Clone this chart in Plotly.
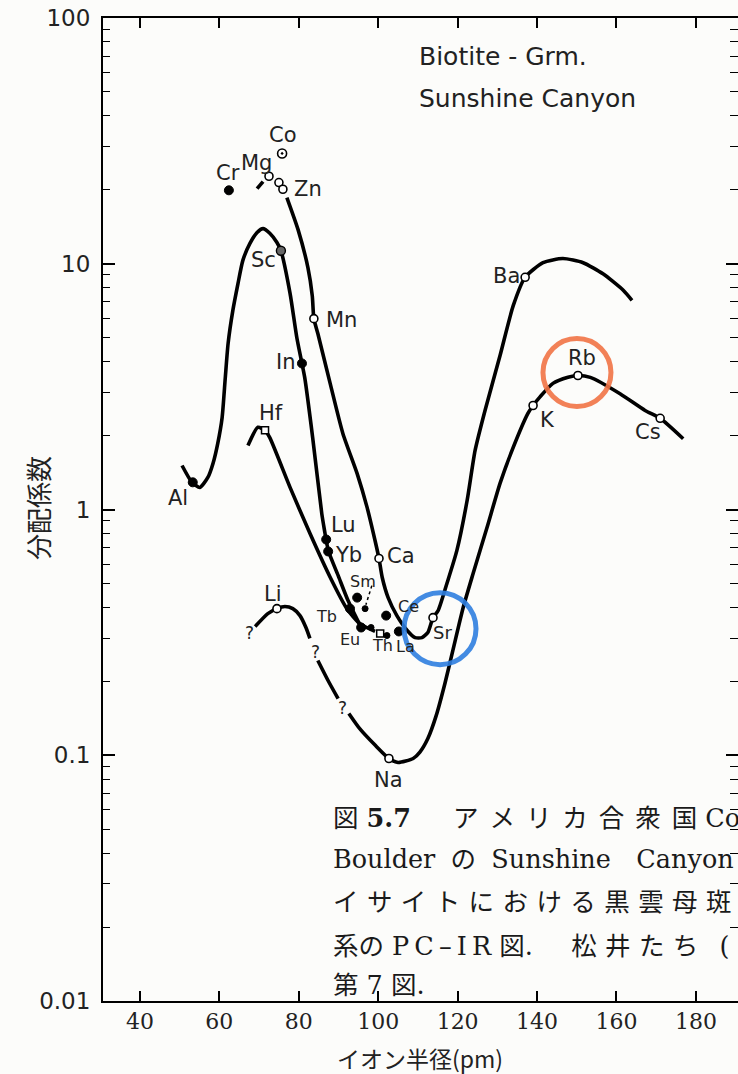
import math
import plotly.graph_objects as go

# ---------------- data ----------------
# measured points: element, ionic radius (pm), partition coefficient
pt_name = ["Cr", "Mg", "Co", "", "Zn", "Sc", "Mn", "In", "Hf", "Al", "Lu", "Yb", "Ca",
           "Sm", "", "Tb", "Eu", "", "Th", "", "La", "Ce", "Sr", "Ba", "K", "Rb", "Cs",
           "Li", "Na"]
pt_radius = [62.4, 72.5, 75.8, 75.0, 76.0, 75.5, 83.8, 80.8, 71.5, 53.3, 86.9, 87.4, 100.2,
             94.7, 96.7, 92.9, 95.7, 98.2, 100.5, 102.2, 105.2, 102.0, 113.8, 137.0, 139.0,
             150.3, 171.0, 74.5, 102.7]
pt_kd = [19.9, 22.7, 28.1, 21.4, 20.1, 11.3, 5.98, 3.93, 2.10, 1.29, 0.755, 0.675, 0.632,
         0.438, 0.395, 0.395, 0.331, 0.331, 0.313, 0.307, 0.319, 0.37, 0.363, 8.81, 2.65,
         3.51, 2.35, 0.395, 0.097]
pt_kind = ["filled", "open", "dot", "open", "open", "grey", "open", "filled", "square",
           "filled", "filled", "filled", "open", "filled", "small", "filled", "filled",
           "small", "square", "small", "filled", "filled", "open", "open", "open", "open",
           "open", "open", "open"]

# hand drawn curves (ionic radius, partition coefficient); None = break in the line
al_sc_r = [50.6, 53.1, 55.1, 57.1, 58.4, 59.6, 60.7, 61.5, 62.2, 63.4, 64.7, 65.9, 67.7,
           69.5, 71.0, 72.7, 74.5, 75.5, 77.8, 79.5, 80.8, 81.5, 83.5, 85.8, 86.6, 86.9,
           87.6, 89.9, 92.4, 95.7]
al_sc_kd = [1.51, 1.29, 1.23, 1.35, 1.54, 1.86, 2.37, 3.45, 4.73, 6.46, 8.32, 10.3, 12.1,
            13.4, 13.9, 13.3, 12.2, 11.3, 7.58, 5.01, 3.93, 3.44, 1.96, 0.96, 0.80, 0.748,
            0.668, 0.539, 0.426, 0.331]

zn_ba_r = [77.0, 79.8, 82.3, 83.4, 83.8, 84.8, 87.9, 91.1, 94.7, 97.2, 99.2, 100.2,
           101.0, 102.5, 104.7, 107.3, 109.3, 111.0, 112.5, 113.8, 115.1, 117.3, 119.8,
           122.4, 124.4, 126.9, 130.7, 134.0, 137.0, 141.5, 146.5, 151.6, 156.6, 161.7,
           163.9]
zn_ba_kd = [18.6, 13.8, 9.65, 7.4, 5.98, 5.20, 3.26, 2.04, 1.40, 1.02, 0.748, 0.632,
            0.53, 0.438, 0.370, 0.322, 0.301, 0.301, 0.316, 0.363, 0.388, 0.50, 0.68,
            1.09, 1.74, 2.53, 4.24, 6.75, 8.81, 10.1, 10.5, 10.1, 9.1, 7.8, 7.1]

hf_r = [67.2, 69.7, 71.5, 72.7, 77.8, 82.8, 87.9, 92.1, 95.4, 99.2]
hf_kd = [1.82, 2.16, 2.10, 1.96, 1.23, 0.80, 0.53, 0.395, 0.343, 0.319]

li_cs_r = [69.0, 72.2, 74.5, 76.5, 78.5, 80.3, 81.8, 82.8, None,
           84.8, 87.4, 89.9, None,
           92.6, 95.4, 99.2, 102.7, 105.0, 108.8, 110.5, 112.5, 114.6, 116.8, 118.8,
           121.4, 123.9, 127.4, 130.7, 133.7, 137.7, 139.0, 140.8, 144.0, 147.8, 150.3,
           153.4, 160.9, 167.2, 171.0, 176.8]
li_cs_kd = [0.334, 0.377, 0.395, 0.403, 0.395, 0.370, 0.331, 0.299, None,
            0.243, 0.201, 0.170, None,
            0.148, 0.128, 0.110, 0.097, 0.0935, 0.097, 0.103, 0.117, 0.145, 0.196, 0.267,
            0.399, 0.549, 0.845, 1.28, 1.74, 2.46, 2.65, 2.88, 3.26, 3.45, 3.51, 3.45,
            2.96, 2.53, 2.35, 1.94]

mg_dash_r = [69.5, 71.0]
mg_dash_kd = [20.2, 21.6]
sm_lead_r = [98.4, 96.9]
sm_lead_kd = [0.49, 0.41]

# uncertain-segment marks "?"
q_r = [67.5, 84.3, 91.1]
q_kd = [0.315, 0.262, 0.155]

y_tick_vals = [0.01, 0.1, 1, 10, 100]
y_tick_text = ["0.01", "0.1", "1", "10", "100"]
x_tick_vals = [40, 60, 80, 100, 120, 140, 160, 180]

# ---------------- layout constants ----------------
FIG_W, FIG_H = 738, 1074
ML, MR, MT, MB = 103, 0, 18, 73
PW, PH = FIG_W - ML - MR, FIG_H - MT - MB
X_RANGE = [30.7, 190.6]
Y_RANGE = [-2, 2]
PX_PER_X = PW / (X_RANGE[1] - X_RANGE[0])
PX_PER_DEC = PH / (Y_RANGE[1] - Y_RANGE[0])
BG = "#fcfcfa"


def px_x(px):
    return (px - ML) / PW


def px_y(py):
    return 1 - (py - MT) / PH


fig = go.Figure()

LINE = dict(color="black", width=3.6, shape="spline", smoothing=0.6)
for xs, ys in [(al_sc_r, al_sc_kd), (zn_ba_r, zn_ba_kd), (hf_r, hf_kd), (li_cs_r, li_cs_kd),
               (mg_dash_r, mg_dash_kd)]:
    fig.add_trace(go.Scatter(x=xs, y=ys, mode="lines", line=LINE, connectgaps=False,
                             hoverinfo="skip", showlegend=False))
fig.add_trace(go.Scatter(x=sm_lead_r, y=sm_lead_kd, mode="lines",
                         line=dict(color="black", width=1.5, dash="dot"),
                         hoverinfo="skip", showlegend=False))

styles = {
    "filled": dict(symbol="circle", size=9, color="black", line=dict(color="black", width=1)),
    "small": dict(symbol="circle", size=6, color="black", line=dict(color="black", width=1)),
    "open": dict(symbol="circle", size=8, color="white", line=dict(color="black", width=1.6)),
    "dot": dict(symbol="circle-dot", size=9, color="white", line=dict(color="black", width=1.6)),
    "grey": dict(symbol="circle", size=9, color="#666", line=dict(color="black", width=1.4)),
    "square": dict(symbol="square", size=7, color="white", line=dict(color="black", width=1.5)),
}
for kind, st in styles.items():
    xs = [r for r, k in zip(pt_radius, pt_kind) if k == kind]
    ys = [v for v, k in zip(pt_kd, pt_kind) if k == kind]
    fig.add_trace(go.Scatter(x=xs, y=ys, mode="markers", marker=st,
                             hoverinfo="skip", showlegend=False))

# label offsets in pixels (dx right, dy down) and font size
label_style = {
    "Cr": (-1, -17, 21), "Mg": (-13, -13, 21), "Co": (1, -18, 21), "Zn": (25, 0, 21),
    "Sc": (-17, 9, 21), "Mn": (28, 1, 21), "In": (-16, -1, 21), "Hf": (6, -17, 21),
    "Al": (-15, 16, 21), "Lu": (17, -14, 21), "Yb": (20, 4, 21), "Ca": (22, -2, 21),
    "Sm": (6, -16, 16), "Tb": (-24, 8, 16), "Eu": (-11, 12, 16), "Th": (2, 12, 16),
    "La": (7, 15, 16), "Ce": (22, -9, 16), "Sr": (9, 15, 18), "Ba": (-19, -1, 21),
    "K": (14, 15, 21), "Rb": (4, -17, 21), "Cs": (-12, 14, 21), "Li": (-4, -15, 21),
    "Na": (0, 21, 21),
}
annotations = []
for name, r, kd in zip(pt_name, pt_radius, pt_kd):
    if not name:
        continue
    dx, dy, fs = label_style[name]
    annotations.append(dict(x=r, y=math.log10(kd), xref="x", yref="y", text=name,
                            showarrow=False, xshift=dx, yshift=-dy, xanchor="center",
                            yanchor="middle",
                            font=dict(family="DejaVu Sans", size=fs, color="#222")))
for r, kd in zip(q_r, q_kd):
    annotations.append(dict(x=r, y=math.log10(kd), xref="x", yref="y", text="?",
                            showarrow=False, font=dict(family="DejaVu Sans", size=17,
                                                       color="#222")))

# text block in the top right
annotations.append(dict(x=px_x(417), y=px_y(56), xref="paper", yref="paper",
                        text="Biotite - Grm.", showarrow=False, xanchor="left",
                        yanchor="middle", font=dict(family="DejaVu Sans", size=25,
                                                     color="#222")))
annotations.append(dict(x=px_x(417), y=px_y(98), xref="paper", yref="paper",
                        text="Sunshine Canyon", showarrow=False, xanchor="left",
                        yanchor="middle", font=dict(family="DejaVu Sans", size=25,
                                                     color="#222")))

# caption (cropped by the page edge in the original)
SP = "\u2004"
SP1 = "\u2004\u200a"
EN = "\u2002"
HAIR = "\u200a"
cap_lines = [
    "図 <b>5.7</b>" + SP * 5 + SP1.join("アメリカ合衆国") + " Colorado",
    "Boulder" + EN + HAIR + "の" + EN + HAIR + "Sunshine" + EN + EN + "Canyon",
    SP.join("イサイトにおける黒雲母斑晶"),
    "系の " + "\u2009".join("PC–IR") + " 図." + "\u2003" + EN + SP.join("松井たち")
    + EN + SP + "(",
    "第 7 図.",
]
cap_y = [818, 859, 902, 946, 985]
for txt, yy in zip(cap_lines, cap_y):
    annotations.append(dict(x=px_x(331), y=px_y(yy), xref="paper", yref="paper", text=txt,
                            showarrow=False, xanchor="left", yanchor="middle",
                            font=dict(family="DejaVu Serif, Noto Sans CJK JP", size=25.5,
                                      color="#1a1a1a")))

# axis titles
annotations.append(dict(x=px_x(37), y=px_y(508), xref="paper", yref="paper", text="分配係数",
                        textangle=-90, showarrow=False, xanchor="center", yanchor="middle",
                        font=dict(family="Noto Sans CJK JP", size=26, color="#222")))
annotations.append(dict(x=px_x(420), y=px_y(1058), xref="paper", yref="paper",
                        text="イオン半径(pm)", showarrow=False, xanchor="center",
                        yanchor="middle",
                        font=dict(family="Noto Sans CJK JP", size=23, color="#222")))

# hand-drawn highlight circles around Sr (blue) and Rb (orange):
# centred near the point, offset (dx right, dy down) and radius given in pixels
# (shape coordinates on this log axis are given as data values)
shapes = []
for name, dx, dy, rad, col in [("Sr", 7, 11, 36, "#2f7fe0"), ("Rb", -1, -3, 34, "#f27446")]:
    i = pt_name.index(name)
    cx = pt_radius[i] + dx / PX_PER_X
    cy = math.log10(pt_kd[i]) - dy / PX_PER_DEC
    shapes.append(dict(type="circle", xref="x", yref="y",
                       x0=cx - rad / PX_PER_X, x1=cx + rad / PX_PER_X,
                       y0=10 ** (cy - rad / PX_PER_DEC), y1=10 ** (cy + rad / PX_PER_DEC),
                       line=dict(color=col, width=5), opacity=0.9))

minor_vals = [k * 10 ** e for e in range(-2, 2) for k in range(2, 10)]

fig.update_layout(
    width=FIG_W, height=FIG_H,
    margin=dict(l=ML, r=MR, t=MT, b=MB, pad=0),
    paper_bgcolor=BG, plot_bgcolor=BG,
    showlegend=False,
    annotations=annotations,
    shapes=shapes,
    xaxis=dict(range=X_RANGE, tickvals=x_tick_vals, ticks="inside", ticklen=10,
               tickwidth=1.5, tickcolor="black", showline=True, linecolor="black",
               linewidth=2, mirror="ticks", showgrid=False, zeroline=False,
               tickfont=dict(family="DejaVu Serif", size=22, color="#222")),
    yaxis=dict(type="log", range=Y_RANGE, tickvals=y_tick_vals, ticktext=y_tick_text,
               ticks="inside", ticklen=12, tickwidth=1.5, tickcolor="black",
               showline=True, linecolor="black", linewidth=2, showgrid=False,
               zeroline=False, ticklabelstandoff=6,
               minor=dict(tickvals=minor_vals, ticks="inside", ticklen=7, tickwidth=1.3,
                          tickcolor="black", showgrid=False),
               tickfont=dict(family="DejaVu Sans", size=23, color="#222")),
    yaxis2=dict(type="log", range=Y_RANGE, overlaying="y", side="right",
                tickvals=y_tick_vals, ticks="inside", ticklen=12, tickwidth=1.5,
                tickcolor="black", showline=False, showgrid=False, zeroline=False,
                showticklabels=False,
                minor=dict(tickvals=minor_vals, ticks="inside", ticklen=8, tickwidth=1.3,
                           tickcolor="black", showgrid=False)),
)
# invisible trace so the right axis is drawn
fig.add_trace(go.Scatter(x=[None], y=[None], yaxis="y2", showlegend=False,
                         hoverinfo="skip"))

fig.write_html("out.html")
